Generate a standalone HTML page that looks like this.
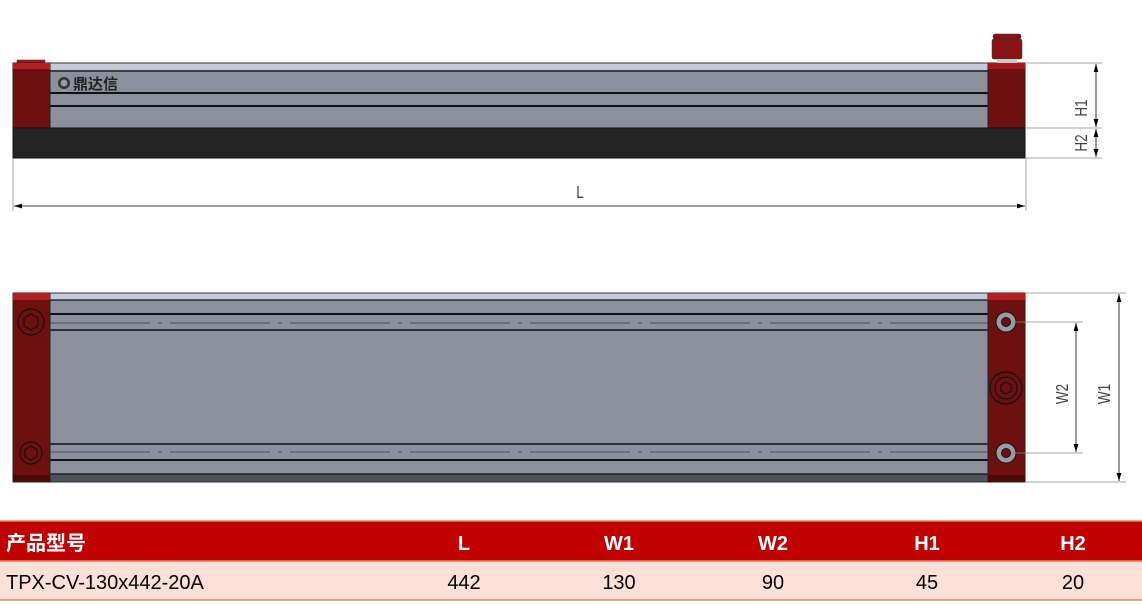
<!DOCTYPE html>
<html><head><meta charset="utf-8"><style>
html,body{margin:0;padding:0;background:#fff;width:1142px;height:605px;overflow:hidden}
svg{position:absolute;left:0;top:0}
.t{font-family:"Liberation Sans","Noto Sans CJK SC",sans-serif}
</style></head><body>
<svg width="1142" height="605" viewBox="0 0 1142 605">
<defs>
<marker id="a" viewBox="0 0 10 6" refX="10" refY="3" markerWidth="10" markerHeight="6" orient="auto-start-reverse"><path d="M0,0L10,3L0,6z" fill="#000"/></marker>
</defs>
<!-- TOP VIEW -->
<rect x="17" y="60" width="28" height="4" fill="#a01818" stroke="#333" stroke-width="0.5"/>
<rect x="50" y="63" width="938" height="65" fill="#8a909c"/>
<rect x="50" y="63" width="938" height="7" fill="#c4cad8"/>
<line x1="50" y1="71" x2="988" y2="71" stroke="#222" stroke-width="1.5"/>
<line x1="50" y1="93" x2="988" y2="93" stroke="#111" stroke-width="2"/>
<line x1="50" y1="106" x2="988" y2="106" stroke="#111" stroke-width="2"/>
<rect x="50" y="63" width="938" height="65" fill="none" stroke="#333" stroke-width="1"/>
<rect x="13" y="63" width="37" height="65" fill="#6e1010" stroke="#222"/>
<rect x="13" y="63" width="37" height="6" fill="#b22020"/>
<rect x="988" y="63" width="37" height="65" fill="#6e1010" stroke="#222"/>
<rect x="988" y="63" width="37" height="6" fill="#a01818"/>
<rect x="993" y="34" width="28" height="5" rx="2" fill="#8a1414" stroke="#333" stroke-width="0.5"/>
<rect x="992" y="39" width="30" height="20" rx="2" fill="#8a1414" stroke="#333" stroke-width="0.5"/>
<rect x="997" y="59" width="20" height="4" fill="#c8cad0"/>
<line x1="1007" y1="34" x2="1007" y2="59" stroke="#333" stroke-width="0.6"/>
<rect x="13" y="128" width="1012" height="30" fill="#242424" stroke="#111"/>
<circle cx="64" cy="83" r="6" fill="#333"/><circle cx="64" cy="83" r="3.5" fill="#999"/>
<text x="73" y="89" class="t" font-size="15" font-weight="bold" fill="#222">鼎达信</text>
<!-- H dims -->
<g stroke="#888" stroke-width="0.8"><line x1="1025" y1="63" x2="1102" y2="63"/><line x1="1025" y1="128" x2="1102" y2="128"/><line x1="1025" y1="158" x2="1102" y2="158"/>
<line x1="13" y1="158" x2="13" y2="211"/><line x1="1026" y1="158" x2="1026" y2="211"/></g>
<line x1="1096" y1="64" x2="1096" y2="127" stroke="#000" stroke-width="0.8" marker-start="url(#a)" marker-end="url(#a)"/>
<line x1="1096" y1="129" x2="1096" y2="157" stroke="#000" stroke-width="0.8" marker-start="url(#a)" marker-end="url(#a)"/>
<line x1="14" y1="206" x2="1025" y2="206" stroke="#000" stroke-width="0.8" marker-start="url(#a)" marker-end="url(#a)"/>
<text class="t" font-size="18" fill="#444" transform="translate(1087,108) rotate(-90) scale(0.75,1)" text-anchor="middle">H1</text>
<text class="t" font-size="18" fill="#444" transform="translate(1087,143) rotate(-90) scale(0.75,1)" text-anchor="middle">H2</text>
<text class="t" font-size="18" fill="#444" transform="translate(580,198) scale(0.75,1)" text-anchor="middle">L</text>
<!-- BOTTOM VIEW -->
<rect x="50" y="293" width="938" height="189" fill="#8a909c"/>
<rect x="50" y="293" width="938" height="7" fill="#c4cad8"/>
<rect x="50" y="474" width="938" height="8" fill="#4e525c"/>
<g stroke="#111"><line x1="50" y1="300" x2="988" y2="300" stroke-width="1.2"/><line x1="50" y1="314" x2="988" y2="314" stroke-width="2"/><line x1="50" y1="330" x2="988" y2="330" stroke-width="1.5"/>
<line x1="50" y1="444" x2="988" y2="444" stroke-width="1.5"/><line x1="50" y1="460" x2="988" y2="460" stroke-width="2"/><line x1="50" y1="474" x2="988" y2="474" stroke-width="1.2"/></g>
<g stroke="#5a5e68" stroke-width="1.2" stroke-dasharray="100,8,4,8"><line x1="50" y1="323" x2="988" y2="323"/><line x1="50" y1="452" x2="988" y2="452"/></g>
<rect x="50" y="293" width="938" height="189" fill="none" stroke="#333"/>
<rect x="13" y="293" width="37" height="189" fill="#6e1010" stroke="#222"/>
<rect x="13" y="293" width="37" height="7" fill="#b22020"/>
<rect x="13" y="475" width="37" height="7" fill="#4a0a0a"/>
<rect x="988" y="293" width="37" height="189" fill="#6e1010" stroke="#222"/>
<rect x="988" y="293" width="37" height="7" fill="#b22020"/>
<rect x="988" y="475" width="37" height="7" fill="#4a0a0a"/>
<g fill="none" stroke="#111" stroke-width="1.2">
<circle cx="31" cy="322" r="13"/><polygon points="31,314 38,318 38,326 31,330 24,326 24,318"/>
<circle cx="31" cy="453" r="11"/><polygon points="31,446 37,449.5 37,456.5 31,460 25,456.5 25,449.5"/>
<circle cx="1006" cy="388" r="16"/><circle cx="1006" cy="388" r="11"/><polygon points="1006,382 1011,385 1011,391 1006,394 1001,391 1001,385"/>
</g>
<circle cx="1006" cy="322" r="10" fill="#9a9ca2" stroke="#111"/><circle cx="1006" cy="322" r="4.5" fill="#6e1010" stroke="#111"/>
<circle cx="1006" cy="453" r="10" fill="#9a9ca2" stroke="#111"/><circle cx="1006" cy="453" r="4.5" fill="#6e1010" stroke="#111"/>
<g stroke="#888" stroke-width="0.8"><line x1="1012" y1="322" x2="1083" y2="322"/><line x1="1012" y1="453" x2="1083" y2="453"/>
<line x1="1025" y1="293" x2="1126" y2="293"/><line x1="1025" y1="482" x2="1126" y2="482"/></g>
<line x1="1076" y1="323" x2="1076" y2="452" stroke="#000" stroke-width="0.8" marker-start="url(#a)" marker-end="url(#a)"/>
<line x1="1119" y1="294" x2="1119" y2="481" stroke="#000" stroke-width="0.8" marker-start="url(#a)" marker-end="url(#a)"/>
<text class="t" font-size="18" fill="#444" transform="translate(1068,394) rotate(-90) scale(0.75,1)" text-anchor="middle">W2</text>
<text class="t" font-size="18" fill="#444" transform="translate(1110,394) rotate(-90) scale(0.75,1)" text-anchor="middle">W1</text>
<!-- TABLE -->
<rect x="0" y="521" width="1142" height="40" fill="#c00000"/>
<rect x="0" y="561" width="1142" height="39" fill="#fde0d8"/>
<line x1="0" y1="521" x2="1142" y2="521" stroke="#f08060" stroke-width="1.5"/>
<line x1="0" y1="561" x2="1142" y2="561" stroke="#f08060" stroke-width="1.5"/>
<line x1="0" y1="600" x2="1142" y2="600" stroke="#f08060" stroke-width="1.5"/>
<g class="t" font-size="20" font-weight="bold" fill="#fff" text-anchor="middle">
<text x="6" y="550" text-anchor="start">产品型号</text>
<text x="464" y="550">L</text><text x="619" y="550">W1</text><text x="773" y="550">W2</text><text x="927" y="550">H1</text><text x="1073" y="550">H2</text></g>
<g class="t" font-size="20" fill="#000" text-anchor="middle">
<text x="6" y="589" text-anchor="start">TPX-CV-130x442-20A</text>
<text x="464" y="589">442</text><text x="619" y="589">130</text><text x="773" y="589">90</text><text x="927" y="589">45</text><text x="1073" y="589">20</text></g>
</svg>
</body></html>
